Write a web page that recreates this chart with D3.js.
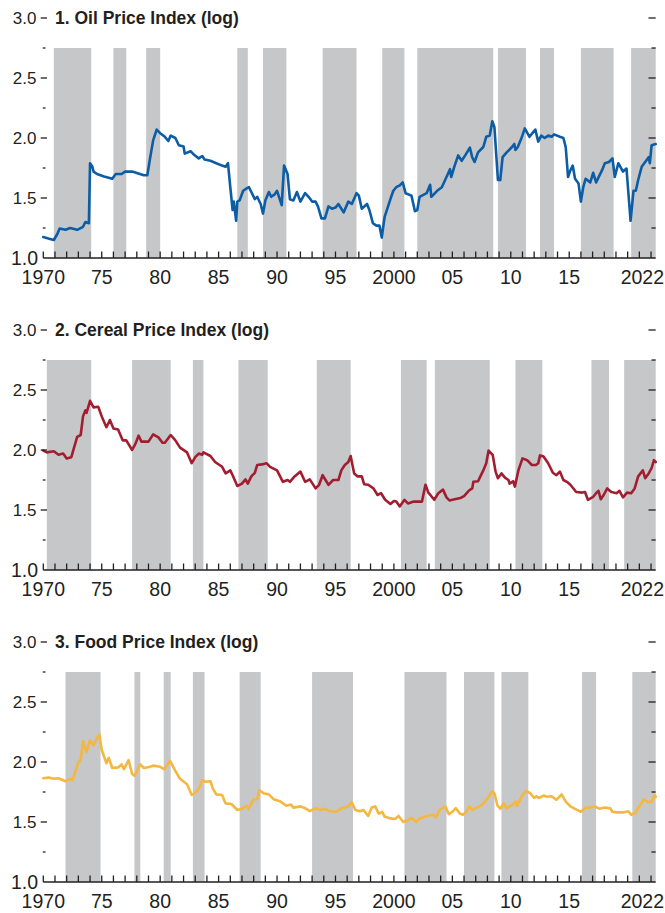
<!DOCTYPE html>
<html><head><meta charset="utf-8">
<script src="https://cdn.jsdelivr.net/npm/d3@7"></script>
<style>
body{margin:0;background:#fff}
svg{display:block}
text{font-family:"Liberation Sans",Arial,sans-serif;fill:#231f20}
</style>
</head><body>
<svg id="chart" width="665" height="913"></svg>
<script>
// ---------- DATA ----------
const oilYears=[1970.0,1970.5,1970.9,1971.2,1971.4,1971.9,1972.3,1972.9,1973.4,1973.6,1973.9,1974.0,1974.2,1974.3,1974.6,1975.2,1975.9,1976.2,1976.7,1977.0,1977.6,1978.6,1978.9,1979.1,1979.4,1979.7,1980.0,1980.4,1980.7,1980.9,1981.3,1981.6,1982.0,1982.1,1982.6,1982.9,1983.3,1983.6,1983.8,1984.3,1984.8,1985.3,1985.6,1985.8,1986.0,1986.2,1986.3,1986.5,1986.6,1986.8,1987.1,1987.4,1987.6,1987.8,1988.1,1988.3,1988.6,1988.8,1989.0,1989.3,1989.5,1989.8,1990.0,1990.4,1990.6,1990.9,1991.1,1991.4,1991.7,1992.0,1992.4,1992.7,1993.0,1993.3,1993.5,1993.8,1994.1,1994.4,1994.7,1995.0,1995.25,1995.7,1996.1,1996.4,1996.8,1997.0,1997.25,1997.7,1997.9,1998.2,1998.5,1998.76,1998.96,1999.2,1999.7,1999.95,2000.2,2000.5,2000.75,2001.0,2001.5,2001.8,2002.0,2002.2,2002.8,2003.1,2003.2,2003.7,2004.1,2004.5,2004.8,2004.9,2005.2,2005.5,2005.8,2006.1,2006.5,2006.7,2006.9,2007.2,2007.65,2007.9,2008.2,2008.42,2008.6,2008.9,2009.1,2009.3,2009.65,2010.1,2010.3,2010.4,2010.6,2010.9,2011.2,2011.6,2012.1,2012.35,2012.6,2012.9,2013.2,2013.5,2013.7,2014.2,2014.5,2014.7,2014.9,2015.1,2015.3,2015.5,2015.8,2016.0,2016.2,2016.4,2016.8,2017.05,2017.3,2017.8,2018.05,2018.4,2018.7,2018.9,2019.2,2019.6,2019.9,2020.05,2020.25,2020.5,2020.7,2020.9,2021.2,2021.5,2021.8,2021.9,2022.05,2022.4];
const oilValues=[1.175,1.16,1.15,1.20,1.245,1.235,1.25,1.235,1.26,1.30,1.29,1.79,1.76,1.72,1.70,1.68,1.66,1.70,1.70,1.72,1.72,1.69,1.69,1.81,1.98,2.07,2.04,2.01,1.975,2.02,2.00,1.94,1.93,1.87,1.89,1.86,1.83,1.85,1.82,1.81,1.79,1.77,1.76,1.79,1.59,1.40,1.47,1.31,1.47,1.48,1.56,1.58,1.59,1.55,1.49,1.51,1.45,1.37,1.48,1.55,1.51,1.53,1.56,1.44,1.77,1.70,1.49,1.48,1.55,1.47,1.54,1.51,1.47,1.47,1.43,1.33,1.33,1.43,1.41,1.42,1.45,1.38,1.47,1.45,1.54,1.52,1.41,1.45,1.40,1.29,1.27,1.27,1.17,1.34,1.49,1.56,1.59,1.605,1.63,1.54,1.52,1.39,1.40,1.51,1.54,1.61,1.51,1.56,1.59,1.675,1.74,1.675,1.77,1.855,1.81,1.855,1.92,1.84,1.80,1.88,1.925,2.01,2.02,2.14,2.09,1.65,1.65,1.84,1.88,1.925,1.95,1.90,1.925,1.995,2.08,2.01,2.07,1.97,2.02,2.00,2.02,2.01,2.03,2.01,2.00,1.925,1.675,1.73,1.77,1.66,1.62,1.47,1.59,1.66,1.63,1.71,1.63,1.73,1.79,1.80,1.83,1.675,1.79,1.72,1.745,1.56,1.31,1.56,1.56,1.65,1.76,1.80,1.84,1.79,1.94,1.95];

const cerealYears=[1970.0,1970.3,1970.9,1971.3,1971.7,1972.0,1972.4,1972.6,1972.9,1973.2,1973.4,1973.6,1973.7,1974.0,1974.3,1974.7,1975.0,1975.4,1975.7,1976.0,1976.4,1976.8,1977.1,1977.6,1977.9,1978.15,1978.4,1979.0,1979.4,1979.85,1980.2,1980.4,1980.9,1981.3,1981.7,1982.3,1982.7,1983.0,1983.3,1983.6,1983.7,1984.3,1984.7,1985.3,1985.6,1986.0,1986.2,1986.6,1987.0,1987.3,1987.5,1987.8,1988.1,1988.3,1988.7,1989.1,1989.4,1990.0,1990.5,1990.9,1991.1,1991.5,1992.0,1992.4,1992.8,1993.3,1993.6,1993.9,1994.4,1994.8,1995.25,1995.5,1995.8,1996.1,1996.3,1996.6,1996.9,1997.25,1997.45,1997.8,1998.25,1998.6,1998.9,1999.25,1999.7,2000.0,2000.2,2000.5,2000.9,2001.2,2001.7,2002.1,2002.4,2002.7,2002.95,2003.45,2003.8,2004.2,2004.5,2004.75,2005.2,2005.7,2006.0,2006.4,2006.7,2006.8,2007.2,2007.4,2007.65,2007.9,2008.1,2008.45,2008.7,2008.9,2009.2,2009.5,2009.8,2009.9,2010.2,2010.35,2010.65,2011.0,2011.4,2011.8,2012.15,2012.35,2012.5,2012.8,2013.2,2013.6,2013.9,2014.2,2014.5,2014.8,2015.1,2015.6,2016.1,2016.35,2016.6,2017.05,2017.3,2017.5,2017.7,2017.95,2018.25,2018.6,2019.05,2019.3,2019.6,2019.95,2020.3,2020.6,2020.9,2021.3,2021.5,2021.8,2022.05,2022.25,2022.4];
const cerealValues=[1.995,1.98,1.99,1.96,1.97,1.93,1.94,2.01,2.11,2.125,2.28,2.33,2.31,2.41,2.355,2.36,2.28,2.19,2.25,2.18,2.17,2.08,2.08,2.00,2.055,2.12,2.07,2.07,2.13,2.105,2.06,2.06,2.125,2.08,2.02,1.98,1.89,1.94,1.97,1.96,1.98,1.95,1.90,1.86,1.805,1.83,1.79,1.70,1.72,1.755,1.72,1.78,1.81,1.875,1.88,1.89,1.86,1.83,1.735,1.75,1.735,1.78,1.82,1.735,1.755,1.68,1.71,1.79,1.71,1.75,1.75,1.83,1.875,1.90,1.95,1.805,1.78,1.78,1.715,1.71,1.68,1.625,1.64,1.585,1.55,1.575,1.57,1.53,1.585,1.555,1.57,1.57,1.57,1.71,1.645,1.585,1.64,1.67,1.605,1.58,1.59,1.60,1.615,1.66,1.68,1.735,1.74,1.78,1.83,1.89,1.995,1.96,1.82,1.765,1.805,1.77,1.75,1.72,1.74,1.695,1.83,1.93,1.915,1.875,1.875,1.89,1.955,1.945,1.89,1.81,1.79,1.82,1.75,1.735,1.71,1.65,1.645,1.65,1.585,1.61,1.64,1.66,1.59,1.625,1.68,1.65,1.64,1.66,1.605,1.645,1.64,1.68,1.78,1.83,1.765,1.805,1.85,1.915,1.90];

const foodYears=[1970.0,1970.45,1970.9,1971.3,1971.9,1972.3,1972.5,1972.7,1973.0,1973.2,1973.4,1973.7,1974.0,1974.3,1974.6,1974.8,1975.0,1975.4,1975.6,1975.9,1976.4,1976.7,1976.9,1977.3,1977.6,1977.8,1978.3,1978.6,1979.15,1979.4,1980.0,1980.35,1980.85,1981.3,1981.7,1982.3,1982.7,1983.1,1983.4,1983.6,1983.9,1984.3,1984.5,1984.8,1985.3,1985.6,1986.1,1986.6,1987.0,1987.4,1987.55,1988.0,1988.3,1988.5,1988.85,1989.3,1989.7,1990.3,1990.8,1991.2,1991.4,1992.0,1992.4,1992.8,1993.3,1993.7,1994.1,1994.5,1995.1,1995.5,1996.1,1996.4,1996.7,1997.1,1997.4,1997.8,1998.1,1998.4,1998.7,1999.0,1999.2,1999.7,2000.1,2000.4,2000.8,2001.15,2001.5,2001.9,2002.2,2002.8,2003.4,2003.6,2003.9,2004.4,2004.7,2005.0,2005.3,2005.65,2005.9,2006.2,2006.45,2006.7,2007.1,2007.5,2007.8,2008.1,2008.4,2008.6,2008.85,2009.1,2009.4,2009.65,2010.1,2010.45,2010.55,2010.9,2011.3,2011.65,2012.0,2012.2,2012.4,2012.8,2013.1,2013.5,2013.9,2014.15,2014.35,2014.7,2015.1,2015.5,2016.0,2016.4,2016.8,2017.2,2017.6,2018.05,2018.5,2018.7,2019.05,2019.6,2020.05,2020.3,2020.7,2021.05,2021.4,2021.75,2022.05,2022.3,2022.4];
const foodValues=[1.865,1.87,1.86,1.865,1.84,1.86,1.85,1.905,2.00,2.015,2.175,2.085,2.18,2.14,2.20,2.23,2.10,1.99,2.035,1.95,1.955,1.98,1.94,2.015,1.90,1.885,1.98,1.95,1.96,1.97,1.96,1.94,2.01,1.925,1.86,1.815,1.725,1.75,1.795,1.85,1.835,1.84,1.78,1.73,1.725,1.655,1.65,1.60,1.61,1.635,1.61,1.69,1.69,1.765,1.74,1.73,1.69,1.67,1.635,1.645,1.62,1.63,1.615,1.59,1.615,1.60,1.61,1.59,1.585,1.615,1.63,1.665,1.60,1.59,1.60,1.55,1.62,1.63,1.57,1.585,1.545,1.53,1.525,1.55,1.50,1.51,1.535,1.50,1.53,1.55,1.56,1.535,1.60,1.63,1.565,1.585,1.615,1.57,1.56,1.585,1.63,1.60,1.62,1.64,1.67,1.71,1.755,1.74,1.64,1.61,1.655,1.615,1.64,1.67,1.635,1.71,1.76,1.74,1.70,1.715,1.70,1.72,1.71,1.715,1.685,1.71,1.73,1.67,1.63,1.61,1.585,1.62,1.62,1.63,1.61,1.62,1.615,1.585,1.58,1.58,1.59,1.56,1.58,1.64,1.69,1.665,1.67,1.725,1.71];

const oilShading=[[1970.9,1974.1],[1976.0,1977.1],[1978.8,1980.0],[1986.6,1987.5],[1988.8,1990.8],[1993.9,1996.8],[1999.0,2000.9],[2002.0,2008.5],[2008.9,2011.3],[2012.5,2013.7],[2016.0,2018.8],[2020.3,2022.4]];
const cerealShading=[[1970.3,1974.1],[1977.6,1980.9],[1982.8,1983.7],[1986.7,1989.2],[1993.4,1996.3],[2000.6,2002.8],[2003.5,2008.2],[2010.4,2012.7],[2016.9,2018.4],[2019.7,2022.4]];
const foodShading=[[1971.9,1974.9],[1977.8,1978.3],[1980.3,1980.9],[1982.8,1983.8],[1986.8,1988.6],[1993.0,1996.5],[2000.9,2004.5],[2006.0,2008.6],[2009.2,2011.5],[2016.1,2017.3],[2020.4,2022.4]];

const panelTitles=["1. Oil Price Index (log)","2. Cereal Price Index (log)","3. Food Price Index (log)"];
const yTickValues=[1.25,1.5,1.75,2.0,2.25,2.5,2.75,3.0];
const yLabelValues=[1.0,1.5,2.0,2.5,3.0];
const yLabelTexts=["1.0","1.5","2.0","2.5","3.0"];
const xLabelYears=[1970,1975,1980,1985,1990,1995,2000,2005,2010,2015,2022];
const xLabelTexts=["1970","75","80","85","90","95","2000","05","10","15","2022"];
const xDomain=[1970,2022.4];
const yDomain=[1,3];
const shadeTop=2.75;

// ---------- DRAW ----------
const svg=d3.select("#chart");
const ink="#231f20";
const x=d3.scaleLinear().domain(xDomain).range([43.3,655.7]);
const panels=[
  {title:panelTitles[0],years:oilYears,values:oilValues,shade:oilShading,color:"#0c5da5",base:258},
  {title:panelTitles[1],years:cerealYears,values:cerealValues,shade:cerealShading,color:"#a31d30",base:570},
  {title:panelTitles[2],years:foodYears,values:foodValues,shade:foodShading,color:"#f4b740",base:882}
];

panels.forEach(p=>{
  const y=d3.scaleLinear().domain(yDomain).range([p.base,p.base-240]);
  const g=svg.append("g");
  // shading
  g.selectAll("rect.shade").data(p.shade).join("rect")
    .attr("x",d=>x(d[0])).attr("width",d=>x(d[1])-x(d[0]))
    .attr("y",y(shadeTop)).attr("height",y(1)-y(shadeTop))
    .attr("fill","#c6c7c9");
  // line
  const pts=p.years.map((yr,i)=>[yr,p.values[i]]);
  g.append("path").datum(pts)
    .attr("d",d3.line().x(d=>x(d[0])).y(d=>y(d[1])))
    .attr("fill","none").attr("stroke",p.color).attr("stroke-width",2.6)
    .attr("stroke-linejoin","round").attr("stroke-linecap","round");
  // x axis line & ticks
  g.append("line").attr("x1",x(xDomain[0])).attr("x2",x(xDomain[1]))
    .attr("y1",y(1)).attr("y2",y(1)).attr("stroke",ink).attr("stroke-width",1.4);
  g.selectAll("line.xt").data(d3.range(1970,2023)).join("line")
    .attr("x1",d=>x(d)).attr("x2",d=>x(d)).attr("y1",y(1)).attr("y2",y(1)-6.5)
    .attr("stroke",ink).attr("stroke-width",1.3);
  // x labels
  g.selectAll("text.xl").data(xLabelYears).join("text")
    .attr("x",(d,i)=>i===xLabelYears.length-1? x(d)+13 : x(d))
    .attr("y",y(1)+25.5)
    .attr("text-anchor",(d,i)=>i===xLabelYears.length-1?"end":"middle")
    .attr("font-size",19.5)
    .text((d,i)=>xLabelTexts[i]);
  // left ticks
  g.selectAll("line.yl").data(yTickValues).join("line")
    .attr("x1",d=>d%0.5===0?40.7:42.8).attr("x2",d=>d%0.5===0?47:45.5)
    .attr("y1",d=>y(d)).attr("y2",d=>y(d)).attr("stroke",ink).attr("stroke-width",1.3);
  // right ticks
  g.selectAll("line.yr").data(yTickValues).join("line")
    .attr("x1",d=>d%0.5===0?648.5:651.5).attr("x2",655.7)
    .attr("y1",d=>y(d)).attr("y2",d=>y(d)).attr("stroke",ink).attr("stroke-width",1.3);
  // y labels
  g.selectAll("text.yl").data(yLabelValues).join("text")
    .attr("x",d=>d===1?38:36.5).attr("y",d=>y(d)).attr("dy","0.35em")
    .attr("text-anchor","end")
    .attr("font-size",d=>d===1?19.5:17)
    .text((d,i)=>yLabelTexts[i]);
  // title
  g.append("text").attr("x",55).attr("y",y(3)).attr("dy","0.35em")
    .attr("font-size",17.5).attr("font-weight","bold").text(p.title);
});
</script>
</body></html>
